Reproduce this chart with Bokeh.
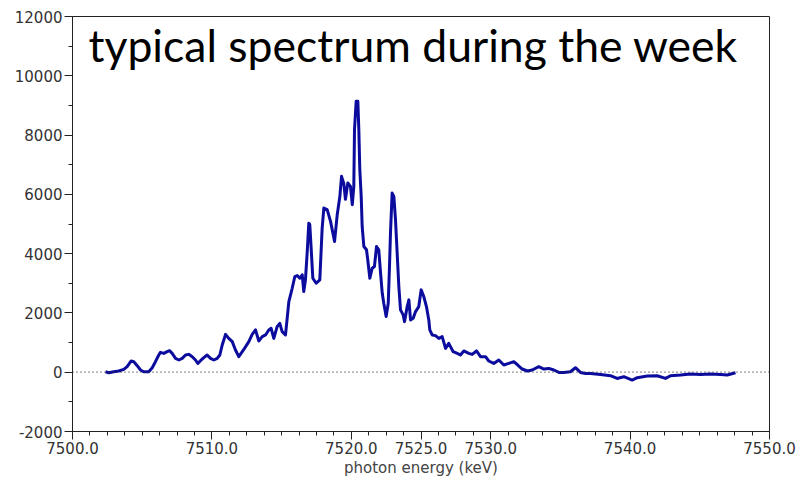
from bokeh.plotting import figure
from bokeh.models import Span, Label, FixedTicker, NumeralTickFormatter, Range1d
from bokeh.embed import file_html
from bokeh.resources import INLINE

# photon energy (keV) and counts
energy = [
    7502.37, 7502.60, 7502.96, 7503.32, 7503.68, 7503.92, 7504.21, 7504.40, 7504.64, 7504.88,
    7505.11, 7505.47, 7505.72, 7505.95, 7506.19, 7506.31, 7506.55, 7506.79, 7506.96, 7507.15,
    7507.39, 7507.63, 7507.87, 7508.11, 7508.34, 7508.59, 7508.82, 7508.99, 7509.18, 7509.42,
    7509.66, 7509.90, 7510.14, 7510.38, 7510.57, 7510.74, 7510.98, 7511.21, 7511.46, 7511.69,
    7511.93, 7512.34, 7512.65, 7512.89, 7513.13, 7513.36, 7513.61, 7513.85, 7514.08, 7514.25,
    7514.44, 7514.68, 7514.87, 7515.04, 7515.28, 7515.40, 7515.52, 7515.76, 7515.95, 7516.12,
    7516.31, 7516.48, 7516.59, 7516.71, 7516.84, 7516.95, 7517.02, 7517.12, 7517.24, 7517.48,
    7517.74, 7517.91, 7518.03, 7518.27, 7518.51, 7518.80, 7518.99, 7519.18, 7519.30, 7519.46,
    7519.58, 7519.75, 7519.94, 7520.07, 7520.18, 7520.23, 7520.35, 7520.47, 7520.54, 7520.61,
    7520.71, 7520.78, 7520.90, 7521.09, 7521.18, 7521.33, 7521.50, 7521.66, 7521.81, 7521.97,
    7522.10, 7522.22, 7522.33, 7522.50, 7522.65, 7522.74, 7522.81, 7522.93, 7523.05, 7523.17,
    7523.29, 7523.41, 7523.53, 7523.72, 7523.82, 7524.01, 7524.13, 7524.25, 7524.44, 7524.61,
    7524.84, 7525.01, 7525.20, 7525.39, 7525.56, 7525.63, 7525.80, 7526.04, 7526.28, 7526.52,
    7526.76, 7526.99, 7527.31, 7527.60, 7527.83, 7528.07, 7528.43, 7528.67, 7528.98, 7529.27,
    7529.63, 7529.86, 7530.22, 7530.58, 7530.94, 7531.30, 7531.66, 7531.94, 7532.26, 7532.62,
    7532.98, 7533.45, 7533.81, 7534.17, 7534.53, 7534.89, 7535.24, 7535.72, 7536.08, 7536.44,
    7536.80, 7537.16, 7537.88, 7538.59, 7539.07, 7539.55, 7540.15, 7540.51, 7541.23, 7541.94,
    7542.54, 7542.90, 7543.62, 7544.33, 7545.05, 7545.77, 7546.49, 7546.97, 7547.56,
]
counts = [
    17, -17, 17, 41, 95, 186, 379, 355, 220, 74,
    17, 17, 152, 355, 581, 669, 635, 693, 727, 635,
    466, 412, 466, 581, 602, 524, 412, 297, 389, 490,
    581, 466, 412, 466, 581, 919, 1278, 1142, 1031, 750,
    524, 804, 1031, 1278, 1426, 1055, 1200, 1257, 1426, 1480,
    1142, 1538, 1649, 1369, 1257, 1818, 2383, 2832, 3228, 3262,
    3170, 3285, 2721, 3116, 4073, 5029, 4986, 4184, 3170, 3001,
    3116, 4860, 5536, 5482, 5087, 4411, 5313, 5932, 6608, 6371,
    5831, 6381, 6270, 5651, 6270, 8186, 9143, 9143, 8186, 6834,
    5932, 4918, 4242, 4130, 3792, 3170, 3508, 3566, 4242, 4130,
    3339, 2663, 2325, 1876, 2325, 3566, 4691, 6043, 5932, 5144,
    4015, 2890, 2102, 1933, 1707, 2214, 2440, 1764, 1818, 2045,
    2214, 2778, 2552, 2214, 1764, 1426, 1257, 1234, 1142, 1200,
    804, 973, 693, 635, 581, 717, 635, 602, 717, 524,
    524, 379, 297, 412, 243, 297, 355, 243, 108, 41,
    74, 186, 108, 128, 74, -7, -7, 17, 152, -7,
    -41, -41, -74, -118, -210, -152, -264, -186, -128, -118,
    -210, -118, -95, -61, -74, -61, -74, -95, -17,
]

x_major_ticks = [7500, 7510, 7520, 7525, 7530, 7540, 7550]
y_major_ticks = [-2000, 0, 2000, 4000, 6000, 8000, 10000, 12000]

p = figure(
    width=800, height=480, output_backend="svg", toolbar_location=None,
    x_range=Range1d(7500, 7550), y_range=Range1d(-2000, 12000),
    min_border_left=72, min_border_right=31, min_border_top=16, min_border_bottom=49,
    background_fill_color="white", border_fill_color="white",
)
p.xgrid.visible = False
p.ygrid.visible = False
p.outline_line_color = "#222222"
p.outline_line_width = 1

p.xaxis.ticker = FixedTicker(ticks=x_major_ticks,
                             minor_ticks=[7500 + 1.25 * i for i in range(41)])
p.yaxis.ticker = FixedTicker(ticks=y_major_ticks,
                             minor_ticks=list(range(-2000, 12001, 1000)))
p.xaxis.formatter = NumeralTickFormatter(format="0.0")
p.yaxis.formatter = NumeralTickFormatter(format="0")
p.xaxis.axis_label = "photon energy (keV)"

for ax in (p.xaxis[0], p.yaxis[0]):
    ax.axis_line_color = "#222222"
    ax.major_tick_line_color = "#222222"
    ax.minor_tick_line_color = "#222222"
    ax.major_tick_out = 8
    ax.major_tick_in = 0
    ax.minor_tick_out = 4
    ax.minor_tick_in = 0
    ax.major_label_text_font = "DejaVu Sans"
    ax.major_label_text_font_size = "15px"
    ax.major_label_text_color = "#333333"
    ax.major_label_standoff = 2
    ax.axis_label_text_font = "DejaVu Sans"
    ax.axis_label_text_font_size = "15px"
    ax.axis_label_text_font_style = "normal"
    ax.axis_label_text_color = "#444444"
    ax.axis_label_standoff = 2

zero = Span(location=0, dimension="width", line_dash="1 3",
            line_color="#333333", line_width=1.2)
p.add_layout(zero)

p.line(energy, counts, line_width=3, line_color="#0b0b9e", line_join="round")

title = Label(x=7501.15, y=11070, text="typical spectrum during the week",
              text_font="Lato", text_font_size="44.5px", text_color="black",
              text_baseline="alphabetic", text_align="left")
p.add_layout(title)

open("out.html", "w").write(file_html(p, INLINE))
